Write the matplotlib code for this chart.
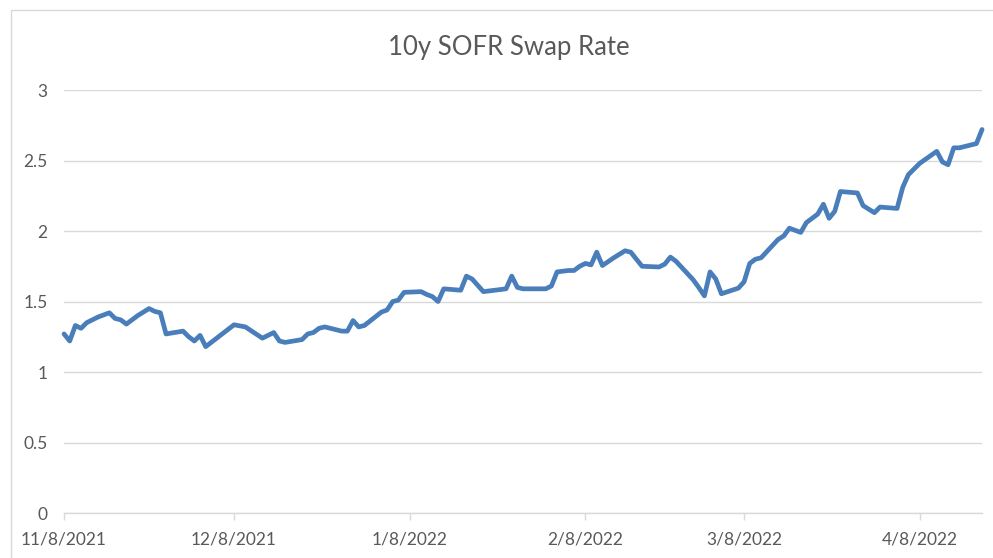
import matplotlib
matplotlib.use("Agg")
import matplotlib.pyplot as plt
import pandas as pd
from matplotlib.patches import Rectangle
from matplotlib import font_manager

dates = [
    "2021-11-08", "2021-11-09", "2021-11-10", "2021-11-11", "2021-11-12", "2021-11-14",
    "2021-11-16", "2021-11-17", "2021-11-18", "2021-11-19", "2021-11-21", "2021-11-23",
    "2021-11-24", "2021-11-25", "2021-11-26", "2021-11-29", "2021-11-30", "2021-12-01",
    "2021-12-02", "2021-12-03", "2021-12-08", "2021-12-10", "2021-12-13", "2021-12-15",
    "2021-12-16", "2021-12-17", "2021-12-20", "2021-12-21", "2021-12-22", "2021-12-23",
    "2021-12-24", "2021-12-27", "2021-12-28", "2021-12-29", "2021-12-30", "2021-12-31",
    "2022-01-03", "2022-01-04", "2022-01-05", "2022-01-06", "2022-01-07", "2022-01-10",
    "2022-01-11", "2022-01-12", "2022-01-13", "2022-01-14", "2022-01-17", "2022-01-18",
    "2022-01-19", "2022-01-21", "2022-01-25", "2022-01-26", "2022-01-27", "2022-01-28",
    "2022-02-01", "2022-02-02", "2022-02-03", "2022-02-05", "2022-02-06", "2022-02-07",
    "2022-02-08", "2022-02-09", "2022-02-10", "2022-02-11", "2022-02-13", "2022-02-15",
    "2022-02-16", "2022-02-18", "2022-02-21", "2022-02-22", "2022-02-23", "2022-02-24",
    "2022-02-27", "2022-02-28", "2022-03-01", "2022-03-02", "2022-03-03", "2022-03-04",
    "2022-03-07", "2022-03-08", "2022-03-09", "2022-03-10", "2022-03-11", "2022-03-14",
    "2022-03-15", "2022-03-16", "2022-03-18", "2022-03-19", "2022-03-21", "2022-03-22",
    "2022-03-23", "2022-03-24", "2022-03-25", "2022-03-28", "2022-03-29", "2022-03-31",
    "2022-04-01", "2022-04-04", "2022-04-05", "2022-04-06", "2022-04-07", "2022-04-08",
    "2022-04-11", "2022-04-12", "2022-04-13", "2022-04-14", "2022-04-15", "2022-04-18",
    "2022-04-19",
]
rates = [
    1.27, 1.22, 1.33, 1.31, 1.35, 1.39,
    1.42, 1.38, 1.37, 1.34, 1.40, 1.45,
    1.43, 1.42, 1.27, 1.29, 1.25, 1.22,
    1.26, 1.18, 1.335, 1.32, 1.24, 1.28,
    1.22, 1.21, 1.23, 1.27, 1.28, 1.31,
    1.32, 1.29, 1.29, 1.365, 1.32, 1.33,
    1.425, 1.44, 1.50, 1.51, 1.565, 1.57,
    1.55, 1.535, 1.50, 1.59, 1.58, 1.68,
    1.66, 1.57, 1.59, 1.68, 1.60, 1.59,
    1.59, 1.61, 1.71, 1.72, 1.72, 1.75,
    1.77, 1.76, 1.85, 1.755, 1.81, 1.86,
    1.85, 1.75, 1.745, 1.765, 1.815, 1.785,
    1.655, 1.60, 1.54, 1.71, 1.66, 1.555,
    1.595, 1.64, 1.77, 1.80, 1.81, 1.94,
    1.965, 2.02, 1.99, 2.06, 2.12, 2.19,
    2.09, 2.14, 2.28, 2.27, 2.18, 2.13,
    2.17, 2.16, 2.31, 2.40, 2.44, 2.48,
    2.565, 2.49, 2.47, 2.59, 2.59, 2.62,
    2.72,
]
xtick_labels = ["11/8/2021", "12/8/2021", "1/8/2022", "2/8/2022", "3/8/2022", "4/8/2022"]
xtick_dates = ["2021-11-08", "2021-12-08", "2022-01-08", "2022-02-08", "2022-03-08", "2022-04-08"]
ytick_values = [0, 0.5, 1, 1.5, 2, 2.5, 3]
ytick_labels = ["0", "0.5", "1", "1.5", "2", "2.5", "3"]
title = "10y SOFR Swap Rate"

available = {f.name for f in font_manager.fontManager.ttflist}
candidates = ['Liberation Sans Narrow', 'DejaVu Sans Condensed', 'Lato', 'DejaVu Sans']
family = [f for f in candidates if f in available] or ['DejaVu Sans']
plt.rcParams['font.family'] = family

x = pd.to_datetime(dates)
fig = plt.figure(figsize=(9.93, 5.58), dpi=100)
ax = fig.add_axes([0.0645, 0.0806, 0.9245, 0.7581])

text_col = "#595959"
grid_col = "#d9d9d9"

ax.plot(x, rates, color="#4a7ebb", lw=3.4, solid_joinstyle="round", solid_capstyle="round",
        zorder=3, clip_on=False)

ax.set_xlim(x[0], x[-1])
ax.set_ylim(0, 3)
ax.set_yticks(ytick_values)
ax.set_yticklabels(ytick_labels)
ax.set_xticks(pd.to_datetime(xtick_dates))
ax.set_xticklabels(xtick_labels)

for s in ["top", "right", "left"]:
    ax.spines[s].set_visible(False)
ax.spines["bottom"].set_color(grid_col)
ax.spines["bottom"].set_linewidth(1.0)

ax.yaxis.grid(True, color=grid_col, lw=1.0)
ax.set_axisbelow(True)
ax.tick_params(axis="y", length=0, pad=12, labelsize=12.5, labelcolor=text_col)
ax.tick_params(axis="x", length=5, width=1.0, color=grid_col, pad=8, labelsize=12.5, labelcolor=text_col)

fig.text(0.512, 0.915, title, ha="center", va="center", fontsize=18.5, color=text_col)

fig.patches.append(Rectangle((0.011, -0.01), 1.0, 0.992, transform=fig.transFigure,
                             fill=False, edgecolor="#d9d9d9", lw=1.0))

fig.savefig("out.png", dpi=100)
